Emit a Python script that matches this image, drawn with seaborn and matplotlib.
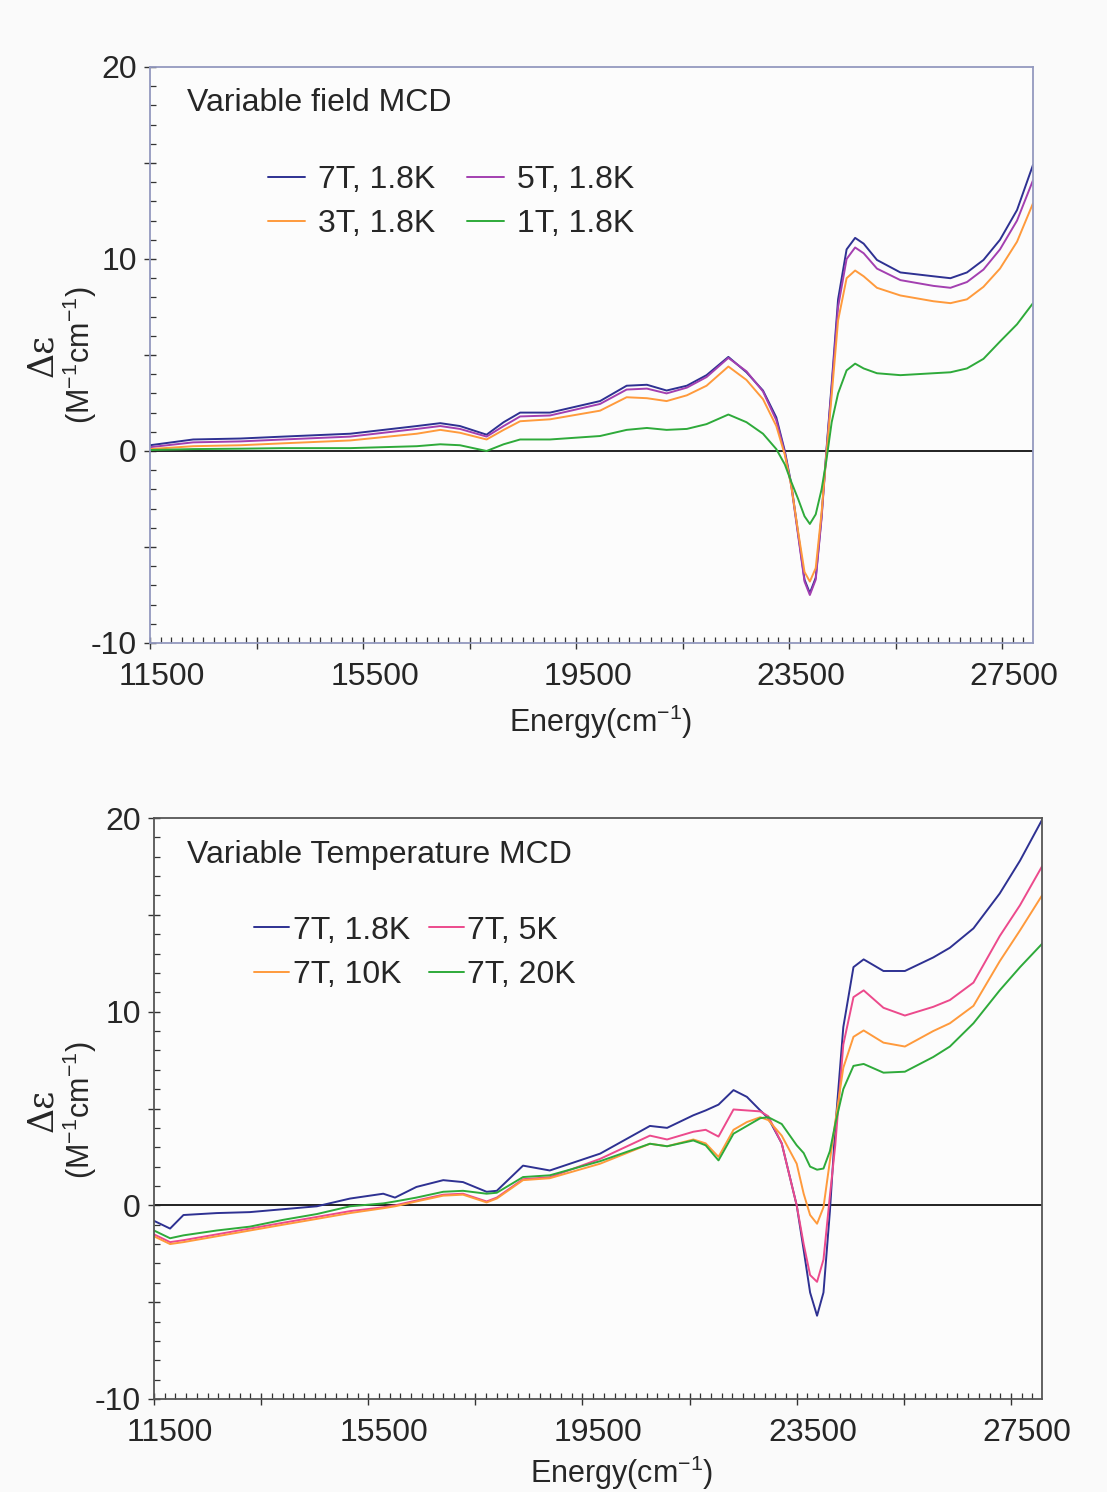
import numpy as np
import pandas as pd
import matplotlib
matplotlib.use('Agg')
import matplotlib.pyplot as plt
import seaborn as sns
from matplotlib.ticker import FixedLocator, FuncFormatter
from matplotlib.transforms import ScaledTranslation

# ---------------- data ----------------
# top panel: variable field, 1.8 K
energy_top = [11500, 12310, 13200, 14000, 15260, 16510, 16950, 17320, 17820, 18140,
              18450, 19010, 19950, 20450, 20830, 21200, 21580, 21950, 22360, 22700,
              23010, 23260, 23420, 23540, 23670, 23790, 23890, 24000, 24110, 24200,
              24300, 24420, 24580, 24740, 24900, 25150, 25590, 26210, 26530, 26840,
              27150, 27460, 27780, 28080]
field_7T = [0.3, 0.6, 0.65, 0.75, 0.9, 1.3, 1.45, 1.3, 0.85, 1.5,
            2.0, 2.0, 2.6, 3.4, 3.45, 3.15, 3.4, 3.95, 4.9, 4.1,
            3.15, 1.75, 0.0, -1.7, -4.3, -6.7, -7.4, -6.6, -3.4, 0.0,
            3.5, 7.9, 10.5, 11.1, 10.8, 9.95, 9.3, 9.1, 9.0, 9.3,
            9.95, 11.0, 12.55, 14.9]
field_5T = [0.2, 0.45, 0.5, 0.6, 0.75, 1.15, 1.3, 1.15, 0.75, 1.3,
            1.8, 1.85, 2.45, 3.2, 3.25, 3.0, 3.3, 3.85, 4.85, 4.15,
            3.1, 1.6, -0.1, -1.8, -4.4, -6.8, -7.5, -6.7, -3.5, -0.1,
            3.3, 7.5, 10.0, 10.6, 10.3, 9.5, 8.9, 8.6, 8.5, 8.8,
            9.45, 10.5, 12.0, 14.1]
field_3T = [0.1, 0.25, 0.3, 0.4, 0.55, 0.9, 1.1, 0.95, 0.6, 1.1,
            1.55, 1.65, 2.1, 2.8, 2.75, 2.6, 2.9, 3.4, 4.4, 3.7,
            2.7, 1.3, -0.2, -1.8, -4.2, -6.3, -6.8, -6.1, -3.2, -0.2,
            2.9, 6.8, 9.0, 9.4, 9.1, 8.5, 8.1, 7.8, 7.7, 7.9,
            8.55, 9.5, 10.9, 12.9]
field_1T = [0.05, 0.1, 0.12, 0.15, 0.15, 0.25, 0.35, 0.3, 0.0, 0.35,
            0.6, 0.6, 0.78, 1.1, 1.2, 1.1, 1.15, 1.4, 1.9, 1.5,
            0.9, 0.1, -0.7, -1.6, -2.5, -3.4, -3.8, -3.3, -2.0, -0.5,
            1.5, 3.0, 4.2, 4.55, 4.3, 4.05, 3.95, 4.05, 4.1, 4.3,
            4.8, 5.7, 6.6, 7.7]

# bottom panel: variable temperature, 7 T
energy_bot = [11500, 11800, 12050, 12670, 13290, 13910, 14540, 15160, 15780, 16000,
              16400, 16900, 17270, 17710, 17900, 18390, 18890, 19830, 20760, 21080,
              21570, 21800, 22040, 22320, 22570, 22820, 22970, 23220, 23500, 23630,
              23750, 23880, 24000, 24120, 24220, 24370, 24560, 24750, 25120, 25520,
              26050, 26360, 26800, 27290, 27670, 28080]
temp_1p8K = [-0.8, -1.2, -0.5, -0.4, -0.35, -0.2, -0.05, 0.35, 0.6, 0.4,
             0.95, 1.3, 1.2, 0.7, 0.75, 2.05, 1.8, 2.67, 4.1, 4.0,
             4.65, 4.9, 5.2, 5.95, 5.6, 4.9, 4.5, 3.2, 0.0, -2.3,
             -4.5, -5.7, -4.5, -0.3, 4.0, 9.2, 12.3, 12.7, 12.1, 12.1,
             12.8, 13.3, 14.3, 16.1, 17.8, 19.9]
temp_5K = [-1.5, -1.9, -1.8, -1.5, -1.2, -0.9, -0.6, -0.3, -0.1, 0.0,
           0.25, 0.55, 0.6, 0.2, 0.4, 1.35, 1.45, 2.4, 3.6, 3.4,
           3.8, 3.9, 3.55, 4.95, 4.9, 4.85, 4.6, 3.2, 0.0, -2.0,
           -3.6, -3.95, -2.8, 0.5, 3.1, 8.3, 10.75, 11.1, 10.2, 9.8,
           10.25, 10.6, 11.5, 13.9, 15.5, 17.5]
temp_10K = [-1.6, -2.0, -1.9, -1.6, -1.3, -1.0, -0.7, -0.4, -0.15, -0.05,
            0.2, 0.5, 0.55, 0.15, 0.35, 1.3, 1.4, 2.15, 3.18, 3.05,
            3.4, 3.2, 2.5, 3.9, 4.3, 4.55, 4.4, 3.6, 2.15, 0.6,
            -0.5, -0.95, -0.1, 2.3, 4.3, 7.1, 8.7, 9.03, 8.4, 8.2,
            9.0, 9.4, 10.3, 12.6, 14.2, 16.0]
temp_20K = [-1.3, -1.7, -1.55, -1.3, -1.1, -0.75, -0.45, -0.05, 0.1, 0.2,
            0.4, 0.7, 0.75, 0.6, 0.65, 1.46, 1.55, 2.28, 3.18, 3.05,
            3.35, 3.1, 2.32, 3.7, 4.1, 4.5, 4.55, 4.2, 3.1, 2.7,
            2.0, 1.84, 1.9, 2.8, 4.2, 6.0, 7.2, 7.3, 6.85, 6.9,
            7.66, 8.2, 9.4, 11.1, 12.3, 13.5]

top_labels = ['7T, 1.8K', '5T, 1.8K', '3T, 1.8K', '1T, 1.8K']
top_colors = ['#2e3192', '#a33fb0', '#ff9a3c', '#2eaa3a']
bot_labels = ['7T, 1.8K', '7T, 5K', '7T, 10K', '7T, 20K']
bot_colors = ['#2e3192', '#ec4a8c', '#ff9a3c', '#2eaa3a']


def long_frame(energy, series, labels):
    parts = []
    for lab, vals in zip(labels, series):
        parts.append(pd.DataFrame({'energy': energy, 'de': vals, 'curve': lab}))
    return pd.concat(parts, ignore_index=True)


df_top = long_frame(energy_top, [field_7T, field_5T, field_3T, field_1T], top_labels)
df_bot = long_frame(energy_bot, [temp_1p8K, temp_5K, temp_10K, temp_20K], bot_labels)

sns.set_style('ticks')
plt.rcParams['font.family'] = ['Liberation Sans', 'DejaVu Sans']
plt.rcParams['mathtext.fontset'] = 'custom'
plt.rcParams['mathtext.rm'] = 'Liberation Sans'

W, H = 1107, 1492
fig = plt.figure(figsize=(W / 100, H / 100), dpi=100, facecolor='#fafafa')


def px_axes(l, t, r, b):
    return fig.add_axes([l / W, 1 - b / H, (r - l) / W, (b - t) / H])


ax1 = px_axes(150, 67, 1033, 643)
ax2 = px_axes(154, 818, 1042, 1399)


def style_axes(ax, spine_col, xshift):
    ax.set_facecolor('#fcfcfc')
    ax.set_xlim(11500, 28080)
    ax.set_ylim(-10, 20)
    ax.xaxis.set_major_locator(FixedLocator(np.arange(11500, 28100, 2000)))
    ax.xaxis.set_minor_locator(FixedLocator(np.arange(11500, 28100, 200)))
    ax.xaxis.set_major_formatter(FuncFormatter(
        lambda v, p: '%d' % v if int(round(v - 11500)) % 4000 == 0 else ''))
    ax.yaxis.set_major_locator(FixedLocator(np.arange(-10, 21, 5)))
    ax.yaxis.set_minor_locator(FixedLocator(np.arange(-10, 21, 1)))
    ax.yaxis.set_major_formatter(FuncFormatter(
        lambda v, p: '%d' % v if int(round(v)) % 10 == 0 else ''))
    ax.tick_params(which='major', direction='inout', length=9, width=1,
                   color='#333333', labelsize=23, pad=5)
    ax.tick_params(which='minor', direction='in', length=4, width=0.9,
                   color='#333333')
    ax.tick_params(axis='x', pad=9)
    # the x labels sit a little right of their ticks in the original
    off = ScaledTranslation(xshift / 100, 0, fig.dpi_scale_trans)
    for lab in ax.get_xticklabels():
        lab.set_transform(lab.get_transform() + off)
    for s in ax.spines.values():
        s.set_visible(True)
        s.set_color(spine_col)
        s.set_linewidth(1.3)
    ax.axhline(0, color='#222222', lw=1.4, zorder=1)
    ax.set_xlabel('')
    ax.set_ylabel('')


order = [0, 2, 1, 3]

# top panel
sns.lineplot(data=df_top, x='energy', y='de', hue='curve', hue_order=top_labels,
             palette=top_colors, estimator=None, sort=False, lw=1.4, ax=ax1)
style_axes(ax1, '#9399bf', 12)
h, l = ax1.get_legend_handles_labels()
ax1.legend([h[i] for i in order], [l[i] for i in order], ncol=2, frameon=False,
           fontsize=23, handlelength=1.15, handletextpad=0.4, columnspacing=1.0,
           labelspacing=0.45, loc='upper left', bbox_to_anchor=(0.134, 0.83),
           borderaxespad=0, borderpad=0)
ax1.text(0.042, 0.937, 'Variable field MCD', transform=ax1.transAxes,
         fontsize=23, va='center', ha='left')

# bottom panel
sns.lineplot(data=df_bot, x='energy', y='de', hue='curve', hue_order=bot_labels,
             palette=bot_colors, estimator=None, sort=False, lw=1.4, ax=ax2)
style_axes(ax2, '#555555', 16)
h, l = ax2.get_legend_handles_labels()
ax2.legend([h[i] for i in order], [l[i] for i in order], ncol=2, frameon=False,
           fontsize=23, handlelength=1.1, handletextpad=0.1, columnspacing=0.6,
           labelspacing=0.45, loc='upper left', bbox_to_anchor=(0.113, 0.832),
           borderaxespad=0, borderpad=0)
ax2.text(0.037, 0.937, 'Variable Temperature MCD', transform=ax2.transAxes,
         fontsize=23, va='center', ha='left')

# axis titles
for yc, xc, xy in [(355, 601, 722), (1110, 622, 1473)]:
    fig.text(42 / W, 1 - yc / H, 'Δε', rotation=90, fontsize=25,
             family=['DejaVu Serif'], ha='center', va='center')
    fig.text(80 / W, 1 - yc / H, '(M$^{-1}$cm$^{-1}$)', rotation=90, fontsize=22,
             ha='center', va='center')
    fig.text(xc / W, 1 - xy / H, 'Energy(cm$^{-1}$)', fontsize=22,
             ha='center', va='center')

fig.savefig('out.png', dpi=100, facecolor=fig.get_facecolor())
